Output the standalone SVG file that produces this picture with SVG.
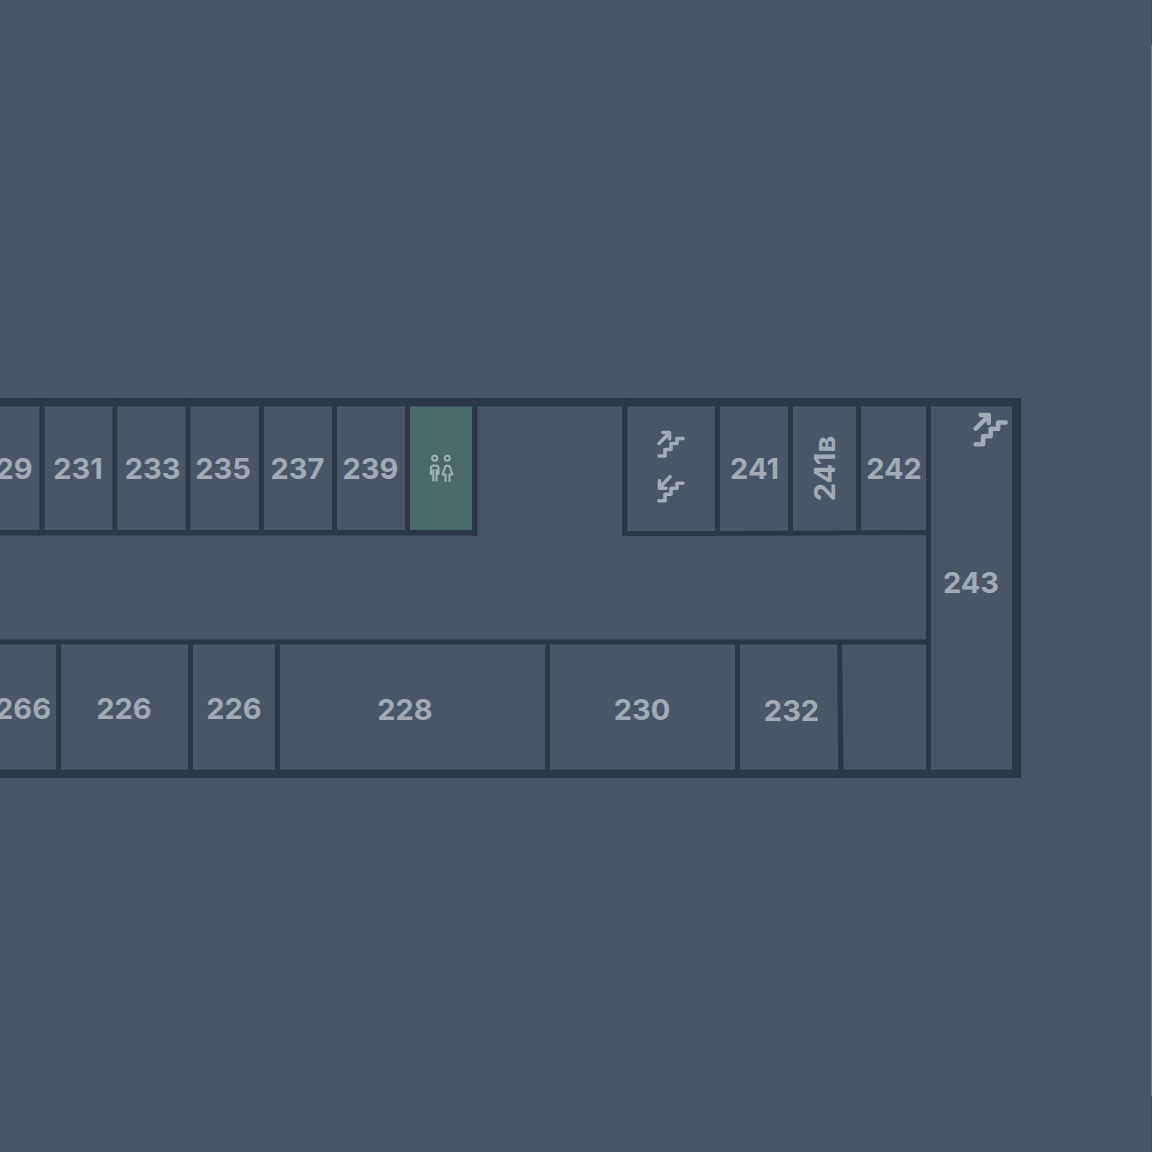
<svg xmlns="http://www.w3.org/2000/svg" width="1152" height="1152" viewBox="0 0 1152 1152">
<style>
.w{fill:#2d3748}
.t{font-family:Inter,"Noto Sans",sans-serif;font-size:29px;font-weight:650;fill:#a3aab6;text-anchor:middle}
.i{fill:none;stroke:#a3aab6;stroke-width:3.6;stroke-linecap:round;stroke-linejoin:round}
.r{fill:none;stroke:#9cb3b0;stroke-width:2.1;stroke-linecap:round;stroke-linejoin:round}
</style>
<defs>
<path id="steps" class="i" d="M-11 16H-5V9.500H1V3.500H7V-1.500H13"/>
<g id="up"><use href="#steps"/><path class="i" d="M-11 3.500L-1.500 -6M-7 -7.500H-0.500V-1"/></g>
<g id="down"><use href="#steps"/><path class="i" d="M0 -8L-10 2.500M-10.500 -4V3.500H-4"/></g>
</defs>
<rect width="1152" height="1152" fill="#4a5568"/>
<rect x="1151" y="0" width="1" height="45" fill="#434d60"/>
<rect x="1151" y="45" width="1" height="1051" fill="#6b7686"/>
<rect x="1151" y="1096" width="1" height="56" fill="#434d60"/>
<g id="walls">
<rect class="w" x="0" y="398" width="1021" height="8.500"/>
<rect class="w" x="1012" y="398" width="9" height="380"/>
<rect class="w" x="0" y="769.500" width="1021" height="8.500"/>
<rect class="w" x="0" y="530" width="477" height="5.500"/>
<path class="w" d="M622 531H718L926 530V535L718 536H622Z"/>
<rect class="w" x="0" y="639.500" width="931" height="5"/>
<rect class="w" x="39.500" y="398" width="5" height="137"/>
<rect class="w" x="112.500" y="398" width="5" height="137"/>
<rect class="w" x="185.500" y="398" width="5" height="137"/>
<rect class="w" x="259" y="398" width="5" height="137"/>
<rect class="w" x="332" y="398" width="5" height="137"/>
<rect class="w" x="405" y="398" width="5" height="137"/>
<rect class="w" x="472" y="398" width="5.500" height="137.500"/>
<rect class="w" x="622" y="398" width="5.500" height="138"/>
<rect class="w" x="715" y="398" width="5" height="138"/>
<rect class="w" x="788" y="398" width="5" height="138"/>
<rect class="w" x="856" y="398" width="5" height="137"/>
<rect class="w" x="926" y="398" width="5" height="380"/>
<rect class="w" x="56" y="640" width="5" height="138"/>
<rect class="w" x="188" y="640" width="5" height="138"/>
<rect class="w" x="275" y="640" width="5" height="138"/>
<rect class="w" x="545" y="640" width="5" height="138"/>
<rect class="w" x="735" y="640" width="5" height="138"/>
<path class="w" d="M837 640H842L843.700 778H838.300Z"/>
</g>
<g id="wc">
<rect x="410" y="406.500" width="62" height="123.500" fill="#4a6a6a"/>
<g class="r">
<circle cx="434.700" cy="458.300" r="2.500"/><circle cx="447.300" cy="458.300" r="2.500"/>
<path d="M431 474V468Q431 465.500 433.500 465.500H436Q438.500 465.500 438.500 468V474M433.300 470V480.500M436.500 470V480.500"/>
<path d="M447.500 465.500Q445 465.500 444.500 469L442.500 474.500H445.500V481M447.500 465.500Q450 465.500 450.500 469L452.500 474.500H449.500V481"/>
</g>
</g>
<g id="stairs-a"><use href="#up" x="670" y="440"/><use href="#down" x="670" y="484.700"/></g>
<g id="stairs-b"><use href="#up" transform="translate(989.400 424.300) scale(1.250)"/></g>
<g id="labels">
<text class="t" x="14" y="478.500">29</text>
<text class="t" x="78" y="478.500">231</text>
<text class="t" x="152.500" y="478.500">233</text>
<text class="t" x="223" y="478.500">235</text>
<text class="t" x="297.500" y="478.500">237</text>
<text class="t" x="370.500" y="478.500">239</text>
<text class="t" x="754.500" y="479">241</text>
<text class="t" transform="translate(835 468.500) rotate(-90)">241в</text>
<text class="t" x="894" y="479">242</text>
<text class="t" x="971" y="592.500">243</text>
<text class="t" x="23" y="718.500">266</text>
<text class="t" x="124" y="718.500">226</text>
<text class="t" x="234" y="718.500">226</text>
<text class="t" x="405" y="719.500">228</text>
<text class="t" x="642" y="719.500">230</text>
<text class="t" x="791.500" y="720.500">232</text>
</g>
</svg>
